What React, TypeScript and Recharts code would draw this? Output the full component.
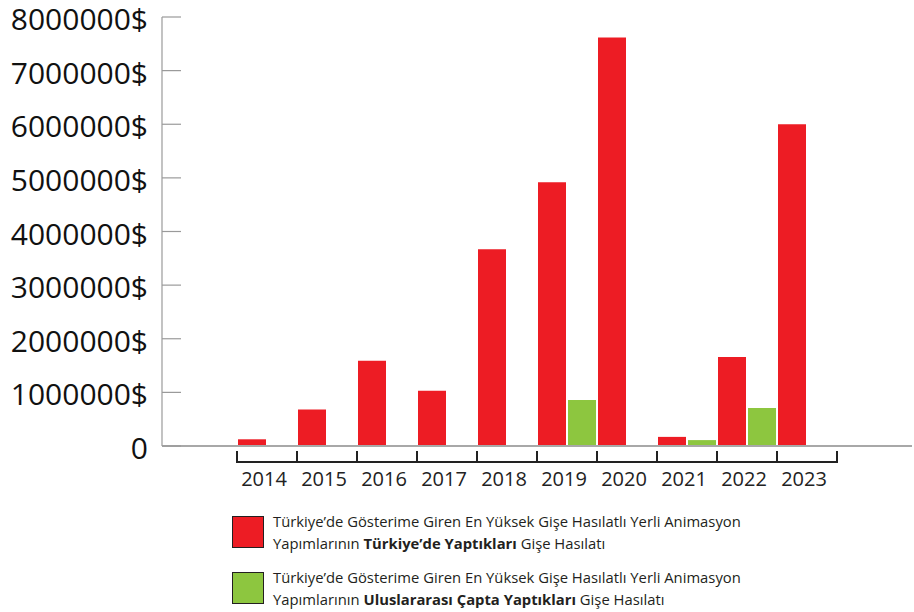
import { BarChart, Bar, XAxis, YAxis, ReferenceLine } from 'recharts';

const years = ['2014', '2015', '2016', '2017', '2018', '2019', '2020', '2021', '2022', '2023'];
const domesticGross = [125000, 680000, 1590000, 1030000, 3670000, 4920000, 7620000, 170000, 1660000, 6000000];
const internationalGross = [0, 0, 0, 0, 0, 860000, 0, 110000, 710000, 0];
const yTicks = [0, 1000000, 2000000, 3000000, 4000000, 5000000, 6000000, 7000000, 8000000];

const data = years.map((year, i) => ({
  year,
  turkiye: domesticGross[i],
  uluslararasi: internationalGross[i],
}));

const RED = '#ED1C24';
const GREEN = '#8DC63F';
const FONT = '"Open Sans", "Noto Sans", sans-serif';

const CHART_W = 914;
const PLOT_LEFT = 162;
const PLOT_RIGHT = 2;
const X_PAD = 75;
const BAND = (CHART_W - PLOT_LEFT - PLOT_RIGHT - 2 * X_PAD) / years.length;

const YTick = (props: any) => {
  const { x, y, payload } = props;
  const v = payload.value as number;
  return (
    <g>
      <line x1={x + 14} x2={x + 33} y1={y} y2={y} stroke="#9a9a9a" strokeWidth={1.2} />
      <text x={x} y={y} dy={13} textAnchor="end" fontSize={30} fontFamily={FONT} fill="#111">
        {v === 0 ? '0' : `${v}$`}
      </text>
    </g>
  );
};

const XTick = (props: any) => {
  const { x, y, index } = props;
  const half = BAND / 2;
  const lineY = y + 16;
  return (
    <g>
      <line x1={x - half} x2={x + half} y1={lineY} y2={lineY} stroke="#222" strokeWidth={2} />
      <line x1={x - half} x2={x - half} y1={lineY - 11} y2={lineY + 1} stroke="#222" strokeWidth={2} />
      {index === years.length - 1 && (
        <line x1={x + half} x2={x + half} y1={lineY - 11} y2={lineY + 1} stroke="#222" strokeWidth={2} />
      )}
      <text x={x - 3} y={lineY + 24} textAnchor="middle" fontSize={20} fontFamily={FONT} fill="#222">
        {props.payload.value}
      </text>
    </g>
  );
};

const LegendItem = ({ color, bold }: { color: string; bold: string }) => (
  <div style={{ display: 'flex', alignItems: 'center', marginBottom: 12 }}>
    <div
      style={{
        width: 30,
        height: 30,
        background: color,
        border: '1.5px solid #231F20',
        marginRight: 9,
        flexShrink: 0,
      }}
    />
    <div style={{ fontSize: 14.8, lineHeight: '22px', color: '#231F20', fontFamily: FONT }}>
      Türkiye’de Gösterime Giren En Yüksek Gişe Hasılatlı Yerli Animasyon
      <br />
      Yapımlarının <b>{bold}</b> Gişe Hasılatı
    </div>
  </div>
);

const App = () => {
  return (
    <div style={{ position: 'absolute', left: 0, top: 0, width: 914, height: 612, background: '#fff' }}>
      <BarChart
        width={CHART_W}
        height={500}
        data={data}
        margin={{ top: 17, right: PLOT_RIGHT, left: 0, bottom: 0 }}
        barSize={28}
        barGap={2}
        barCategoryGap={0}
      >
        <YAxis
          width={PLOT_LEFT}
          domain={[0, 8000000]}
          ticks={yTicks}
          interval={0}
          tickSize={0}
          tickMargin={14}
          tickLine={false}
          axisLine={{ stroke: '#9a9a9a', strokeWidth: 1.2 }}
          tick={<YTick />}
        />
        <XAxis
          dataKey="year"
          height={54}
          padding={{ left: X_PAD, right: X_PAD }}
          axisLine={false}
          tickLine={false}
          tickSize={0}
          tickMargin={0}
          interval={0}
          tick={<XTick />}
        />
        <ReferenceLine y={0} stroke="#a8a8a8" strokeWidth={2} />
        <Bar dataKey="turkiye" fill={RED} isAnimationActive={false} />
        <Bar dataKey="uluslararasi" fill={GREEN} isAnimationActive={false} />
      </BarChart>
      <div style={{ position: 'absolute', left: 232, top: 510 }}>
        <LegendItem color={RED} bold="Türkiye’de Yaptıkları" />
        <LegendItem color={GREEN} bold="Uluslararası Çapta Yaptıkları" />
      </div>
    </div>
  );
};

export default App;
